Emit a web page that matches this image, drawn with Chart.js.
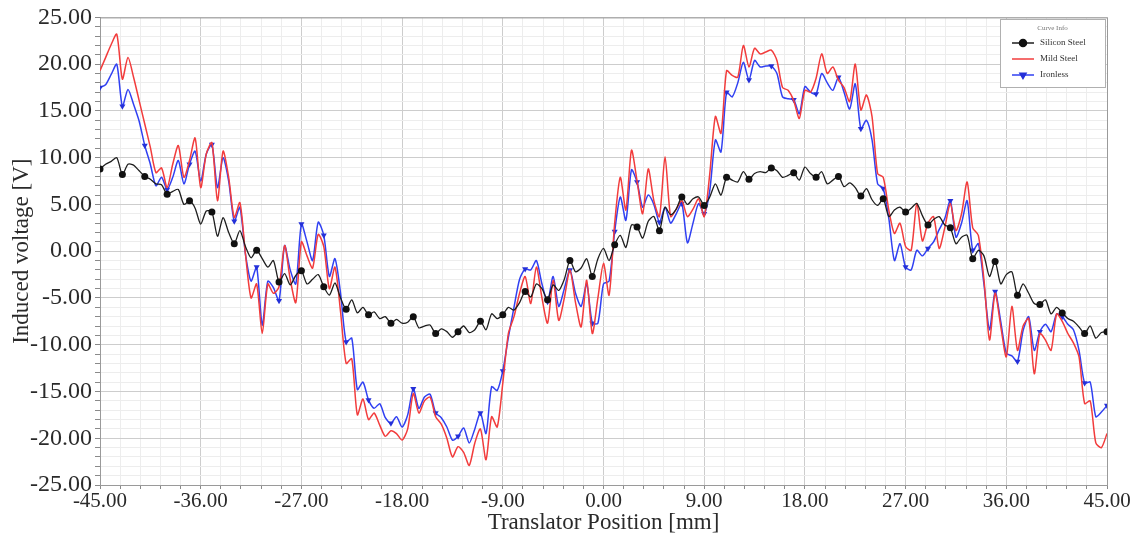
<!DOCTYPE html>
<html>
<head>
<meta charset="utf-8">
<script src="https://cdn.jsdelivr.net/npm/chart.js@4.4.1/dist/chart.umd.min.js"></script>
<style>
html,body{margin:0;padding:0;background:#fff;}
#caja{width:1137px;height:537px;position:relative;}
</style>
</head>
<body>
<div id="caja"><canvas id="grafica"></canvas></div>
<script>
// translator position [mm], one sample every 0.5 mm
const posiciones = [
  -45,-44.5,-44,-43.5,-43,-42.5,-42,-41.5,-41,-40.5,
  -40,-39.5,-39,-38.5,-38,-37.5,-37,-36.5,-36,-35.5,
  -35,-34.5,-34,-33.5,-33,-32.5,-32,-31.5,-31,-30.5,
  -30,-29.5,-29,-28.5,-28,-27.5,-27,-26.5,-26,-25.5,
  -25,-24.5,-24,-23.5,-23,-22.5,-22,-21.5,-21,-20.5,
  -20,-19.5,-19,-18.5,-18,-17.5,-17,-16.5,-16,-15.5,
  -15,-14.5,-14,-13.5,-13,-12.5,-12,-11.5,-11,-10.5,
  -10,-9.5,-9,-8.5,-8,-7.5,-7,-6.5,-6,-5.5,
  -5,-4.5,-4,-3.5,-3,-2.5,-2,-1.5,-1,-0.5,
  0,0.5,1,1.5,2,2.5,3,3.5,4,4.5,
  5,5.5,6,6.5,7,7.5,8,8.5,9,9.5,
  10,10.5,11,11.5,12,12.5,13,13.5,14,14.5,
  15,15.5,16,16.5,17,17.5,18,18.5,19,19.5,
  20,20.5,21,21.5,22,22.5,23,23.5,24,24.5,
  25,25.5,26,26.5,27,27.5,28,28.5,29,29.5,
  30,30.5,31,31.5,32,32.5,33,33.5,34,34.5,
  35,35.5,36,36.5,37,37.5,38,38.5,39,39.5,
  40,40.5,41,41.5,42,42.5,43,43.5,44,44.5,
  45
];

// induced voltage [V]
const siliconSteel = [
  8.8, 9.3, 9.6, 10.0, 8.2, 9.3, 9.2, 8.6, 8.0, 7.7,
  7.2, 7.1, 6.1, 6.4, 6.6, 5.0, 5.4, 4.6, 2.9, 4.3,
  4.2, 1.6, 3.6, 2.0, 0.8, 2.2, 0.5, -0.7, 0.1, -0.8,
  -1.7, -1.0, -3.3, -2.4, -3.6, -2.6, -2.1, -3.5, -3.0, -2.5,
  -3.8, -4.7, -3.4, -5.0, -6.2, -5.2, -6.6, -6.0, -6.8, -6.5,
  -7.2, -7.0, -7.7, -7.3, -7.7, -7.6, -7.0, -8.2, -8.0, -7.9,
  -8.8, -8.3, -8.6, -9.2, -8.6, -8.0, -8.7, -8.4, -7.5, -8.4,
  -6.7, -7.2, -6.8, -6.0, -6.3, -5.5, -4.3, -4.9, -3.5, -4.0,
  -5.2, -3.6, -4.2, -3.0, -1.0, -2.2, -1.8, -0.8, -2.7, -0.8,
  0.3, -1.0, 0.7, 1.7, 0.4, 2.8, 2.6, 1.4, 3.2, 3.7,
  2.2, 4.7, 3.9, 4.5, 5.8, 5.0, 5.6, 5.8, 4.9, 5.8,
  7.2, 6.0, 7.9, 7.6, 7.4, 8.5, 7.7, 8.3, 8.5, 8.4,
  8.9, 8.6, 7.9, 8.1, 8.4, 7.6, 9.0, 8.3, 7.9, 8.5,
  7.2, 7.6, 8.0, 6.9, 7.3, 6.8, 5.9, 6.7, 5.5, 4.9,
  5.6, 3.7, 4.4, 4.7, 4.2, 4.6, 5.1, 3.8, 2.8, 3.4,
  3.7, 2.8, 2.5, 0.8, 1.5, 1.7, -0.8, 0.1, -0.5, -2.7,
  -1.1, -3.5, -2.5, -2.2, -4.7, -3.5, -4.5, -5.6, -5.7, -5.2,
  -6.7, -6.0, -6.6, -7.2, -7.5, -8.1, -8.8, -8.0, -9.3, -8.7,
  -8.6
];
const mildSteel = [
  19.3, 20.7, 22.1, 23.2, 18.4, 20.7, 18.6, 16.1, 13.6, 11.1,
  8.4, 8.9, 6.8, 9.3, 11.3, 7.9, 9.7, 12.1, 6.8, 10.4,
  11.6, 5.4, 10.7, 7.9, 3.6, 5.2, -0.3, -5.0, -3.5, -8.8,
  -3.5, -4.5, -3.8, 0.6, -3.0, -5.5, 1.0, -0.5, -1.8, 1.8,
  0.5, -4.0, -1.7, -6.5, -12.0, -11.5, -17.5, -15.8, -18.0, -17.3,
  -18.6, -19.8, -19.2, -19.5, -20.2, -19.0, -15.2, -17.3, -16.0, -15.6,
  -17.7, -18.5, -20.0, -22.0, -20.9, -21.5, -22.9, -20.5, -19.0, -22.3,
  -17.7, -18.8, -14.1, -8.8, -7.0, -4.5, -2.7, -5.6, -1.7, -5.0,
  -7.7, -3.1, -7.4, -5.0, -2.0, -5.5, -8.1, -3.1, -8.8, -5.0,
  -1.3, -4.7, 3.0, 7.9, 4.4, 10.8, 7.5, 4.0, 8.8, 5.4,
  3.7, 10.1, 3.7, 4.5, 5.4, 3.7, 4.5, 5.6, 3.7, 8.3,
  14.4, 12.6, 19.3, 18.8, 18.6, 22.0, 19.7, 21.7, 21.1, 21.3,
  21.5, 20.4, 17.5, 17.2, 16.1, 14.2, 17.2, 17.0, 18.5, 21.1,
  19.0, 19.7, 18.3, 17.5, 16.0, 20.0, 15.1, 16.7, 14.4, 8.3,
  7.9, 4.4, 1.9, 3.0, 0.5, 0.1, 5.1, 1.1, 3.0, 3.7,
  0.3, 2.5, 5.1, 2.2, 4.0, 7.4, 2.5, 1.7, -3.0, -9.5,
  -4.5, -8.0, -11.3, -5.9, -10.6, -8.0, -7.2, -13.1, -8.8, -9.5,
  -10.6, -6.7, -7.5, -8.8, -9.8, -11.3, -16.3, -16.0, -20.5, -21.0,
  -19.5
];
const ironless = [
  17.5, 17.8, 18.9, 20.0, 15.5, 17.3, 15.7, 13.9, 11.3, 9.3,
  7.0, 7.9, 6.6, 7.9, 9.7, 7.2, 9.3, 10.7, 7.5, 10.4,
  11.4, 6.8, 10.0, 7.5, 3.2, 4.7, -0.3, -3.2, -1.7, -7.9,
  -3.2, -3.9, -5.3, 0.6, -2.0, -3.5, 2.9, 1.0, -1.0, 3.1,
  1.7, -2.7, -0.8, -4.5, -9.7, -9.3, -14.8, -14.0, -15.9, -16.8,
  -16.3, -17.8, -18.4, -17.7, -18.8, -17.5, -14.7, -16.8, -15.6, -15.3,
  -17.3, -17.8, -18.8, -20.2, -19.8, -18.9, -20.5, -19.0, -17.3, -19.5,
  -14.5, -14.9, -12.8, -9.2, -6.0, -3.0, -1.9, -2.0, -1.0, -3.5,
  -5.4, -2.7, -5.9, -4.0, -2.0, -4.5, -5.9, -3.5, -7.7, -7.7,
  -3.5, -3.2, 2.1, 5.8, 3.3, 8.7, 7.4, 4.7, 6.0, 5.0,
  3.1, 4.7, 3.0, 4.0, 5.1, 0.9, 3.0, 5.1, 4.0, 6.5,
  11.9, 10.6, 17.0, 16.5, 18.0, 20.2, 18.3, 20.4, 19.7, 19.8,
  19.8, 19.0, 16.5, 16.3, 16.2, 14.7, 17.6, 17.0, 16.8, 19.0,
  18.0, 17.2, 18.6, 17.0, 15.2, 17.9, 13.1, 14.0, 11.9, 7.2,
  6.7, 3.5, -1.0, 0.8, -1.7, -2.0, 0.1, -0.5, 0.3, 1.0,
  2.3, 3.5, 5.4, 1.5, 3.0, 5.4, 0.1, 0.8, -3.5, -8.4,
  -4.3, -7.5, -10.9, -11.2, -11.8, -8.5, -7.0, -10.6, -8.6, -7.8,
  -8.6, -6.7, -7.0, -7.8, -8.4, -10.6, -14.1, -14.0, -17.7, -17.2,
  -16.5
];

const nombres = ['Silicon Steel', 'Mild Steel', 'Ironless'];
const tituloLeyenda = 'Curve Info';
const tituloY = 'Induced voltage [V]';
const tituloX = 'Translator Position [mm]';

const fuente = 'Liberation Serif';
// markers every 2 mm
const marca = c => (c.dataIndex % 4 === 0 ? 3.5 : 0);
const esMayor = (v, paso) => Math.abs(v / paso - Math.round(v / paso)) < 1e-6;

// frame round the plot area
const marco = {
  id: 'marco',
  beforeDatasetsDraw(chart) {
    const a = chart.chartArea;
    const c = chart.ctx;
    c.save();
    c.strokeStyle = '#9a9a9a';
    c.lineWidth = 1;
    c.strokeRect(a.left + 0.5, a.top + 0.5, a.right - a.left, a.bottom - a.top);
    c.restore();
  }
};

// small boxed legend in the upper right corner
const leyenda = {
  id: 'leyenda',
  afterDraw(chart) {
    const c = chart.ctx;
    const x = 1000, y = 19, w = 105, h = 68;
    c.save();
    c.fillStyle = '#fff';
    c.fillRect(x, y, w, h);
    c.strokeStyle = '#b0b0b0';
    c.lineWidth = 1;
    c.strokeRect(x + 0.5, y + 0.5, w, h);
    c.fillStyle = '#777';
    c.font = '7px "' + fuente + '"';
    c.textAlign = 'center';
    c.textBaseline = 'middle';
    c.fillText(tituloLeyenda, x + w / 2, y + 9);
    chart.data.datasets.forEach((ds, i) => {
      const yy = y + 24 + i * 16;
      c.strokeStyle = ds.borderColor;
      c.lineWidth = 1.5;
      c.beginPath();
      c.moveTo(x + 12, yy);
      c.lineTo(x + 34, yy);
      c.stroke();
      if (ds.pointStyle) {
        c.fillStyle = ds.backgroundColor;
        c.strokeStyle = ds.backgroundColor;
        Chart.helpers.drawPoint(c, {pointStyle: ds.pointStyle, radius: 3.5, rotation: ds.rotation || 0, borderWidth: 1}, x + 23, yy);
      }
      c.fillStyle = '#333';
      c.font = '9px "' + fuente + '"';
      c.textAlign = 'left';
      c.fillText(ds.label, x + 40, yy);
    });
    c.restore();
  }
};

const ctx = document.getElementById('grafica');
const grafica = new Chart(ctx, {
  type: 'line',
  data: {
    labels: posiciones,
    datasets: [
      {label: nombres[0], data: siliconSteel, borderColor: '#1e1e1e', backgroundColor: '#111',
       borderWidth: 1.3, pointRadius: marca, pointStyle: 'circle', pointBorderWidth: 0, tension: 0.25},
      {label: nombres[1], data: mildSteel, borderColor: '#f23c3c', backgroundColor: '#f23c3c',
       borderWidth: 1.5, pointRadius: 0, tension: 0.25},
      {label: nombres[2], data: ironless, borderColor: '#3040f2', backgroundColor: '#2430d8',
       borderWidth: 1.5, pointRadius: marca, pointStyle: 'triangle', rotation: 180, pointBorderWidth: 0, tension: 0.25}
    ]
  },
  options: {
    animation: false,
    responsive: true,
    maintainAspectRatio: false,
    devicePixelRatio: 1,
    layout: {padding: {top: 17, right: 30, bottom: 0, left: 0}},
    plugins: {legend: {display: false}, tooltip: {enabled: false}},
    scales: {
      x: {
        type: 'linear', min: -45, max: 45,
        ticks: {
          stepSize: 1.8, autoSkip: false, maxRotation: 0, padding: 0, color: '#2a2a2a',
          font: {family: fuente, size: 21},
          callback: v => (esMayor(v, 9) ? v.toFixed(2) : '')
        },
        grid: {color: c => (esMayor(c.tick.value, 9) ? '#cdcdcd' : '#ededed'), tickLength: 4, tickColor: '#8a8a8a'},
        border: {color: '#8a8a8a'},
        title: {display: true, text: tituloX, color: '#2a2a2a', font: {family: fuente, size: 23}, padding: {top: 0, bottom: 0}},
        afterFit: s => { s.height = 52; }
      },
      y: {
        min: -25, max: 25,
        ticks: {
          stepSize: 1, autoSkip: false, padding: 3, color: '#2a2a2a',
          font: {family: fuente, size: 24},
          callback: v => (v % 5 === 0 ? v.toFixed(2) : '')
        },
        grid: {color: c => (esMayor(c.tick.value, 5) ? '#cdcdcd' : '#ededed'), tickLength: 5, tickColor: '#8a8a8a'},
        border: {color: '#8a8a8a'},
        title: {display: true, text: tituloY, color: '#2a2a2a', font: {family: fuente, size: 23}, padding: {top: 8, bottom: 0}},
        afterFit: s => { s.width = 100; }
      }
    }
  },
  plugins: [marco, leyenda]
});
</script>
</body>
</html>
